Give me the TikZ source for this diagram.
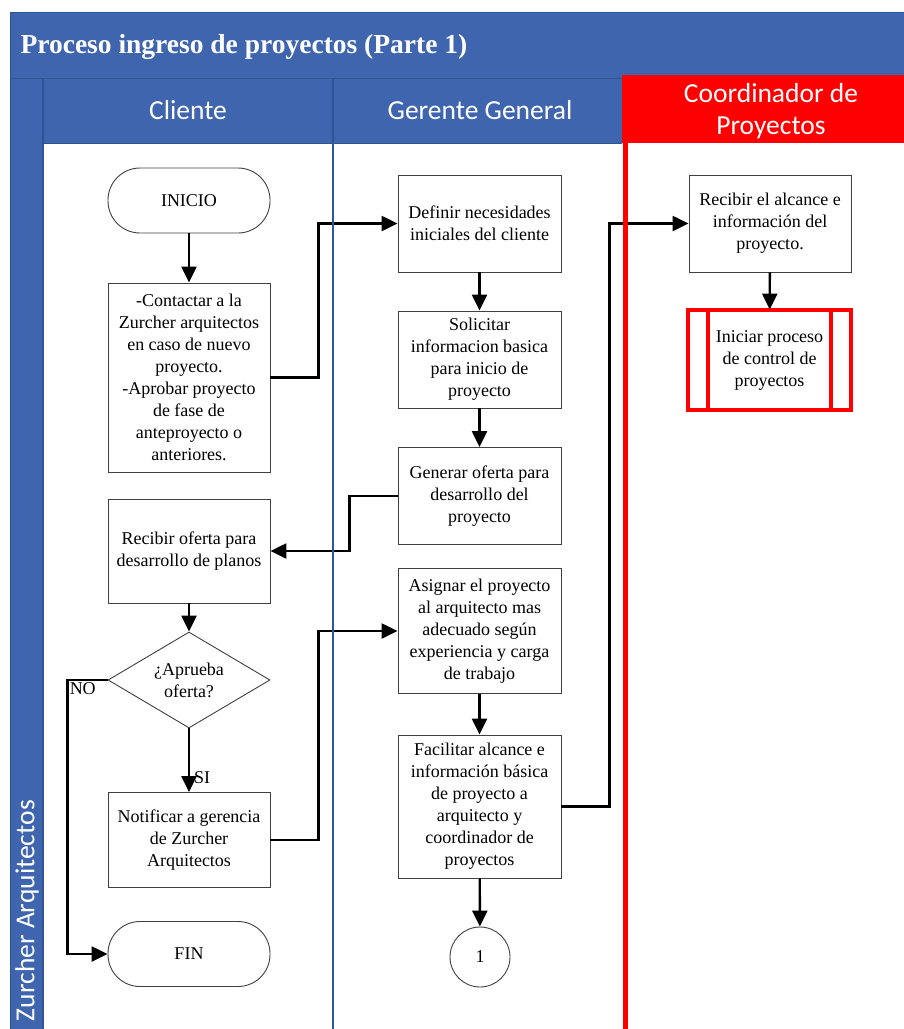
\documentclass[tikz,border=0pt]{standalone}
\usepackage{fontspec}
\setmainfont{Liberation Serif}
\newfontfamily\lanefont{Carlito}
\usepackage{tikz}
\usetikzlibrary{arrows.meta,shapes.geometric,calc}
\definecolor{hdblue} {HTML}{3F65AE}
\definecolor{lnblue} {HTML}{2F5597}
\definecolor{crred}  {HTML}{FF0000}
\definecolor{bxgray} {HTML}{404040}

\begin{document}
\begin{tikzpicture}[x=1pt, y=-1pt,
      box/.style={draw=bxgray, line width=0.9pt, fill=white, align=center,
                  font=\fontsize{18}{22}\selectfont, inner sep=2pt},
      term/.style={box, rounded corners=32pt, minimum width=162pt, minimum height=65pt},
      decision/.style={box, diamond, aspect=1.69, minimum width=162pt, minimum height=96pt, inner sep=0pt},
      predef/.style={draw=crred, line width=4pt},
      flow/.style={line width=2.4pt, -{Triangle[length=16pt, width=15pt]}},
      lbl/.style={font=\fontsize{18}{20}\selectfont, inner sep=1pt},
      lanehead/.style={text=white, font=\lanefont\fontsize{27.5}{32}\selectfont, align=center},
    ]
      \useasboundingbox (0,0) rectangle (904,1029);
      \clip (0,0) rectangle (904,1029);

      % pool and lane headers
      \fill[hdblue] (10,12) rectangle (904,143);
      \fill[hdblue] (10,143) rectangle (43,1040);
      \fill[crred] (622,75) rectangle (904,143);
      \draw[lnblue, line width=1pt] (10,78) -- (622,78);
      \draw[lnblue, line width=1pt] (43,143) -- (622,143);
      \draw[lnblue, line width=1pt] (10,12) -- (904,12);
      \draw[lnblue, line width=1pt] (10,12) -- (10,1040);

      \node[anchor=west, text=white, font=\bfseries\fontsize{27.5}{30}\selectfont]
        (titulo) at (17,47) {Proceso ingreso de proyectos (Parte 1)};
      \node[lanehead] (hcli) at (188,110) {Cliente};
      \node[lanehead] (hger) at (480,110) {Gerente General};
      \node[lanehead] (hcoo) at (771,111) {Coordinador de\\Proyectos};
      \node[lanehead, rotate=90, anchor=east, inner sep=0pt] (hpool) at (27,800)
        {Zurcher Arquitectos};

      % Cliente
      \node[term] (inicio) at (189,200.5) {INICIO};
      \node[box, minimum width=162pt, minimum height=189pt] (contacto) at (189,377.5)
        {-Contactar a la\\Zurcher arquitectos\\en caso de nuevo\\proyecto.\\-Aprobar proyecto\\de fase de\\anteproyecto o\\anteriores.};
      \node[box, minimum width=162pt, minimum height=104pt] (recibe) at (189,551)
        {Recibir oferta para\\desarrollo de planos};
      \node[decision] (aprueba) at (189,680) {¿Aprueba\\oferta?};
      \node[box, minimum width=162pt, minimum height=95pt] (notifica) at (189,840)
        {Notificar a gerencia\\de Zurcher\\Arquitectos};
      \node[term] (fin) at (189,954) {FIN};

      % Gerente General
      \node[box, minimum width=163pt, minimum height=97pt] (define) at (479.5,223.5)
        {Definir necesidades\\iniciales del cliente};
      \node[box, minimum width=163pt, minimum height=97pt] (solicita) at (479.5,359.5)
        {Solicitar\\informacion basica\\para inicio de\\proyecto};
      \node[box, minimum width=163pt, minimum height=97pt] (genera) at (479.5,496)
        {Generar oferta para\\desarrollo del\\proyecto};
      \node[box, minimum width=163pt, minimum height=125pt] (asigna) at (479.5,631)
        {Asignar el proyecto\\al arquitecto mas\\adecuado según\\experiencia y carga\\de trabajo};
      \node[box, minimum width=163pt, minimum height=143pt] (facilita) at (479.5,806.5)
        {Facilitar alcance e\\información básica\\de proyecto a\\arquitecto y\\coordinador de\\proyectos};
      \node[box, circle, minimum size=60pt] (uno) at (480,957) {1};

      % Coordinador de Proyectos
      \node[box, minimum width=162pt, minimum height=97pt] (recibealc) at (770,223.5)
        {Recibir el alcance e\\información del\\proyecto.};
      \node[box, draw=none, minimum width=163pt, minimum height=100pt] (inicia) at (769.5,360)
        {Iniciar proceso\\de control de\\proyectos};
      \draw[predef] (inicia.north west) rectangle (inicia.south east);
      \draw[predef] ([xshift=20pt]inicia.north west) -- ([xshift=20pt]inicia.south west);
      \draw[predef] ([xshift=-20pt]inicia.north east) -- ([xshift=-20pt]inicia.south east);

      % flujo
      \draw[flow] (inicio) -- (contacto);
      \draw[flow] (contacto.east) -- ++(48,0) |- (define.west);
      \draw[flow] (define) -- (solicita);
      \draw[flow] (solicita) -- (genera);
      \draw[flow] (genera.west) -- ++(-48,0) |- (recibe.east);
      \draw[flow] (recibe) -- (aprueba);
      \draw[flow] (aprueba.west) -- ++(-40,0)
        node[lbl, anchor=north west] (no) {NO} |- (fin.west);
      \draw[flow] (aprueba) -- (notifica)
        node[lbl, pos=0.78, right, xshift=3pt] (si) {SI};
      \draw[flow] (notifica.east) -- ++(48,0) |- (asigna.west);
      \draw[flow] (asigna) -- (facilita);
      \draw[flow] (facilita) -- (uno);
      \draw[flow] (facilita.east) -- ++(48,0) |- (recibealc.west);
      \draw[flow] (recibealc) -- (inicia);

      % lane lines
      \draw[lnblue, line width=1.6pt] (333,78) -- (333,1040);
      \draw[lnblue, line width=1.2pt] (43,78) -- (43,1040);
      \draw[crred, line width=5pt] (625,75) -- (625,1040);
    \end{tikzpicture}
\end{document}
